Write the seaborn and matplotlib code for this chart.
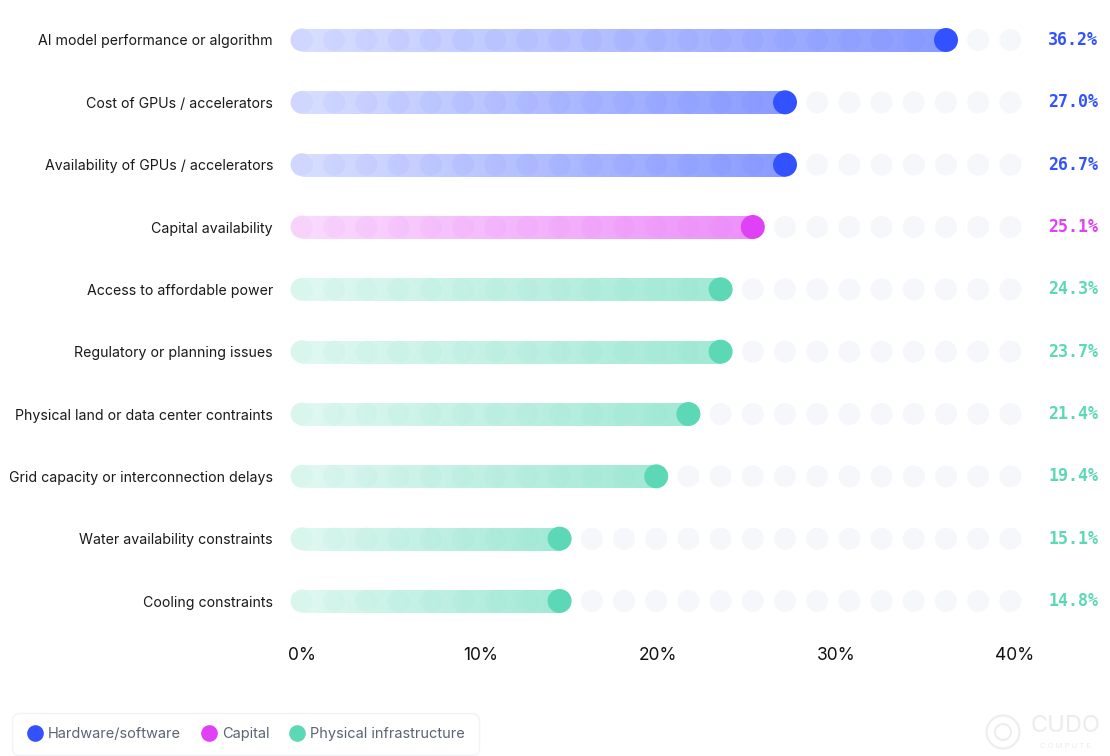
import numpy as np
import pandas as pd
import matplotlib.pyplot as plt
import seaborn as sns
from matplotlib.collections import LineCollection
from matplotlib.lines import Line2D
from matplotlib.patches import Circle
from matplotlib.colors import to_rgb

# --- data ---
categories = [
    'AI model performance or algorithm',
    'Cost of GPUs / accelerators',
    'Availability of GPUs / accelerators',
    'Capital availability',
    'Access to affordable power',
    'Regulatory or planning issues',
    'Physical land or data center contraints',
    'Grid capacity or interconnection delays',
    'Water availability constraints',
    'Cooling constraints',
]
values = [36.2, 27.0, 26.7, 25.1, 24.3, 23.7, 21.4, 19.4, 15.1, 14.8]
groups = ['Hardware/software'] * 3 + ['Capital'] + ['Physical infrastructure'] * 6
group_order = ['Hardware/software', 'Capital', 'Physical infrastructure']
group_colors = {'Hardware/software': '#3352FF',
                'Capital': '#E040F6',
                'Physical infrastructure': '#5DD8B6'}
x_ticks = [0, 10, 20, 30, 40]
x_tick_labels = ['0%', '10%', '20%', '30%', '40%']

# geometry (pixels of the 1110x756 canvas)
W, H = 1110, 756
x0_px = 302
px_per_pct = (1015 - 302) / 40
dot_gap_px = 32.2
n_dots = 23
dot_step = dot_gap_px / px_per_pct

df = pd.DataFrame({'category': categories, 'value': values, 'group': groups})
df['row'] = np.arange(len(df))
# the bar end snaps to the nearest dot of the grid
df['end'] = (df['value'] / dot_step).round() * dot_step

sns.set_theme(style='white')
plt.rcParams['font.family'] = ['Inter', 'DejaVu Sans']

fig = plt.figure(figsize=(W / 100, H / 100), dpi=100)
ax = fig.add_axes([280 / W, 1 - 625 / H, 760 / W, 610 / H])

row_px = (601 - 40) / 9
ax.set_xlim(-(x0_px - 280) / px_per_pct, (1040 - x0_px) / px_per_pct)
ax.set_ylim(9 + (625 - 601) / row_px, -(40 - 15) / row_px)

dot_x = np.arange(n_dots) * dot_step
dot_s = (22 * 0.72) ** 2
bar_lw = 23 * 0.72


def mix(c, a):
    r = np.array(to_rgb(c))
    return tuple(1 - a * (1 - r))


# background grey dots
bg = pd.DataFrame([(x, r) for r in df['row'] for x in dot_x], columns=['x', 'row'])
sns.scatterplot(data=bg, x='x', y='row', color='#F6F7FB', s=dot_s,
                edgecolor='none', ax=ax, zorder=1, legend=False)

# gradient bars
for _, r in df.iterrows():
    col = group_colors[r['group']]
    xs = np.linspace(0, r['end'], 120)
    step = xs[1] - xs[0]
    segs = [[(xs[i], r['row']), (min(xs[i + 1] + step, r['end']), r['row'])]
            for i in range(len(xs) - 1)]
    cols = [mix(col, 0.19 + 0.39 * i / (len(xs) - 2)) for i in range(len(xs) - 1)]
    lc = LineCollection(segs, colors=cols, linewidths=bar_lw, capstyle='butt',
                        antialiaseds=False, zorder=2)
    ax.add_collection(lc)
    ax.scatter([0], [r['row']], s=(23 * 0.72) ** 2, color=[mix(col, 0.19)],
               edgecolor='none', zorder=2)
    inside = dot_x[dot_x < r['end'] - 0.01]
    ax.scatter(inside, [r['row']] * len(inside), s=dot_s, color=col, alpha=0.05,
               edgecolor='none', zorder=3)

# end circles
sns.scatterplot(data=df, x='end', y='row', hue='group', palette=group_colors,
                s=(24 * 0.72) ** 2, edgecolor='none', ax=ax, zorder=4, legend=False)

# value labels
for _, r in df.iterrows():
    ax.text((1098 - x0_px) / px_per_pct, r['row'], f"{r['value']:.1f}%",
            ha='right', va='center', fontsize=12, fontweight='bold',
            family='DejaVu Sans Mono', color=group_colors[r['group']], clip_on=False)

ax.set_yticks(df['row'])
ax.set_yticklabels(df['category'], fontsize=10.2, color='#1A1A1A')
ax.set_xticks(x_ticks)
ax.set_xticklabels(x_tick_labels, fontsize=12.5, color='#111111')
ax.tick_params(axis='y', length=0, pad=5)
ax.tick_params(axis='x', length=0, pad=16)
ax.set_xlabel('')
ax.set_ylabel('')
for s in ax.spines.values():
    s.set_visible(False)

# legend
handles = [Line2D([], [], marker='o', linestyle='none', markersize=12,
                  markerfacecolor=group_colors[g], markeredgecolor='none', label=g)
           for g in group_order]
leg = fig.legend(handles=handles, loc='lower left', bbox_to_anchor=(15 / W, 4 / H),
                 ncol=3, frameon=True, fontsize=10.5, handletextpad=0.3,
                 columnspacing=1.3, borderpad=0.75, handlelength=1.2, borderaxespad=0)
leg.get_frame().set_edgecolor('#EEF0F4')
leg.get_frame().set_linewidth(1)
leg.get_frame().set_boxstyle('round,pad=0.2,rounding_size=0.5')
for t in leg.get_texts():
    t.set_color('#5B6475')

# faint watermark
fig.patches.append(Circle((10.03, 0.24), 0.165, transform=fig.dpi_scale_trans,
                          fill=False, edgecolor='#EDEDED', linewidth=1.5))
fig.patches.append(Circle((10.03, 0.24), 0.08, transform=fig.dpi_scale_trans,
                          fill=False, edgecolor='#EDEDED', linewidth=1.5))
fig.text(1066 / W, 1 - 726 / H, 'CUDO', ha='center', va='center', fontsize=17,
         color='#ECECEC')
fig.text(1066 / W, 1 - 746 / H, 'C O M P U T E', ha='center', va='center', fontsize=5.5,
         color='#ECECEC')

fig.savefig('out.png', dpi=100)
